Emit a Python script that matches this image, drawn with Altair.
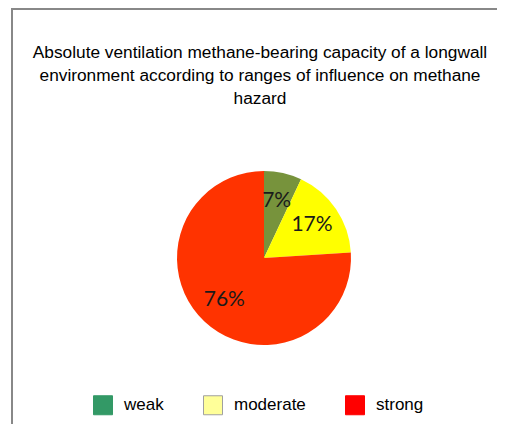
import altair as alt
import pandas as pd

categories = ["weak", "moderate", "strong"]
shares = [7, 17, 76]
pie_colors = ["#77933C", "#FFFF00", "#FF3300"]
legend_fill = ["#339966", "#FFFF99", "#FF0000"]
legend_stroke = ["#339966", "#A0A0A0", "#FF0000"]
title_lines = [
    "Absolute ventilation methane-bearing capacity of a longwall",
    "environment according to ranges of influence on methane",
    "hazard",
]

df = pd.DataFrame({
    "category": categories,
    "share": shares,
    "idx": list(range(len(categories))),
    "pie_color": pie_colors,
    "label": [f"{v}%" for v in shares],
})

W, H, PAD_TOP = 489, 316, 100
CX, CY, R = 256, 150, 87
FONT = "Liberation Sans"

cat_scale_fill = alt.Scale(domain=categories, range=legend_fill)
cat_scale_stroke = alt.Scale(domain=categories, range=legend_stroke)

legend_layer = alt.Chart(df).mark_square(size=1, filled=True, strokeWidth=1, opacity=1).encode(
    x=alt.value(CX), y=alt.value(CY),
    fill=alt.Fill("category:N", scale=cat_scale_fill, sort=categories,
                  legend=alt.Legend(title=None, orient="none", direction="horizontal",
                                    legendX=85, legendY=287)),
    stroke=alt.Stroke("category:N", scale=cat_scale_stroke, sort=categories),
)

pie = alt.Chart(df).mark_arc(radius=R, strokeWidth=0).encode(
    theta=alt.Theta("share:Q", stack=True),
    order=alt.Order("idx:Q"),
    fill=alt.Fill("pie_color:N", scale=None),
    x=alt.value(CX), y=alt.value(CY),
)

labels = alt.Chart(df).mark_text(radius=58, font="Lato", fontSize=21, color="#1a1a1a").encode(
    theta=alt.Theta("share:Q", stack=True),
    order=alt.Order("idx:Q"),
    text="label:N",
    x=alt.value(CX), y=alt.value(CY),
)

frame_data = alt.Data(values=[{"k": 1}])
title_layer = alt.Chart(frame_data).mark_text(
    text=title_lines, font=FONT, fontSize=17.3, color="black", lineHeight=23,
    align="center", baseline="alphabetic",
).encode(x=alt.value(252), y=alt.value(-50))

left_rule = alt.Chart(frame_data).mark_rule(color="#888888", strokeWidth=2).encode(
    x=alt.value(4), y=alt.value(-PAD_TOP + 1), y2=alt.value(H + 20))
top_rule = alt.Chart(frame_data).mark_rule(color="#888888", strokeWidth=2).encode(
    y=alt.value(-PAD_TOP + 1), x=alt.value(3), x2=alt.value(W + 20))

chart = alt.layer(legend_layer, pie, labels, title_layer, left_rule, top_rule).properties(
    width=W, height=H,
    padding={"left": 0, "top": PAD_TOP, "right": 0, "bottom": 0},
    autosize=alt.AutoSizeParams(type="none"),
).configure_view(stroke=None).configure_legend(
    labelFont=FONT, labelFontSize=17, labelColor="black",
    symbolType="square", symbolSize=361, symbolStrokeWidth=1, symbolOpacity=1,
    labelOffset=11, columnPadding=37, padding=0,
)

chart.save("out.html", embed_options={"renderer": "svg", "actions": False})
